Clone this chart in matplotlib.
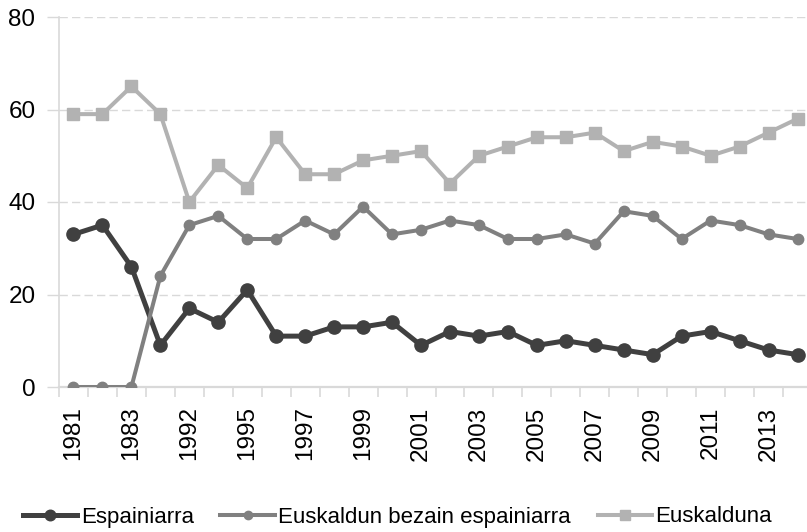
import numpy as np
import matplotlib
matplotlib.use('Agg')
from matplotlib import pyplot as plt

# data
years = ['1981', '1982', '1983', '1987', '1992', '1994', '1995', '1996', '1997', '1998',
         '1999', '2000', '2001', '2002', '2003', '2004', '2005', '2006', '2007', '2008',
         '2009', '2010', '2011', '2012', '2013', '2014']
espainiarra = [33, 35, 26, 9, 17, 14, 21, 11, 11, 13, 13, 14, 9, 12, 11, 12, 9, 10, 9, 8,
               7, 11, 12, 10, 8, 7]
biak = [0, 0, 0, 24, 35, 37, 32, 32, 36, 33, 39, 33, 34, 36, 35, 32, 32, 33, 31, 38,
        37, 32, 36, 35, 33, 32]
euskalduna = [59, 59, 65, 59, 40, 48, 43, 54, 46, 46, 49, 50, 51, 44, 50, 52, 54, 54, 55, 51,
              53, 52, 50, 52, 55, 58]
series_names = ['Espainiarra', 'Euskaldun bezain espainiarra', 'Euskalduna']

plt.rcParams['font.family'] = ['Liberation Sans', 'DejaVu Sans']

W, H = 807, 532
fig = plt.figure(figsize=(W / 100, H / 100), dpi=100)
ax = fig.add_axes([59 / W, (H - 387) / H, (812 - 59) / W, (387 - 17) / H])

x = np.arange(len(years))
ax.plot(x, espainiarra, color='#404040', lw=3.6, marker='o', ms=9.5, label=series_names[0], zorder=3)
ax.plot(x, biak, color='#808080', lw=2.9, marker='o', ms=7.5, label=series_names[1], zorder=4)
ax.plot(x, euskalduna, color='#b2b2b2', lw=2.9, marker='s', ms=9, label=series_names[2], zorder=5)

ax.set_xlim(-0.5, len(years) - 0.5)
ax.set_ylim(0, 80)
ax.set_yticks([0, 20, 40, 60, 80])
ax.yaxis.grid(True, color='#d9d9d9', lw=1.0, dashes=(6, 3))
ax.set_axisbelow(True)

ax.set_xticks(x[::2])
ax.set_xticklabels(years[::2], rotation=90, fontsize=17.5)
ax.set_xticks(np.arange(-0.5, len(years), 1), minor=True)
ax.tick_params(axis='x', which='major', length=0, pad=14)
ax.tick_params(axis='x', which='minor', length=7, width=1.2, color='#d9d9d9')
ax.tick_params(axis='y', length=9, width=1.0, color='#d9d9d9', labelsize=17.5, pad=8)

for s in ['top', 'right']:
    ax.spines[s].set_visible(False)
ax.spines['left'].set_color('#d9d9d9')
ax.spines['left'].set_linewidth(1.2)
ax.spines['bottom'].set_color('#d9d9d9')
ax.spines['bottom'].set_linewidth(1.6)

fig.legend(loc='center', bbox_to_anchor=(397.5 / W, 1 - 517 / H), ncol=3, frameon=False,
           fontsize=16, handlelength=2.45, handletextpad=0.15, columnspacing=1.2, markerscale=0.8)

fig.savefig('out.png', dpi=100)
